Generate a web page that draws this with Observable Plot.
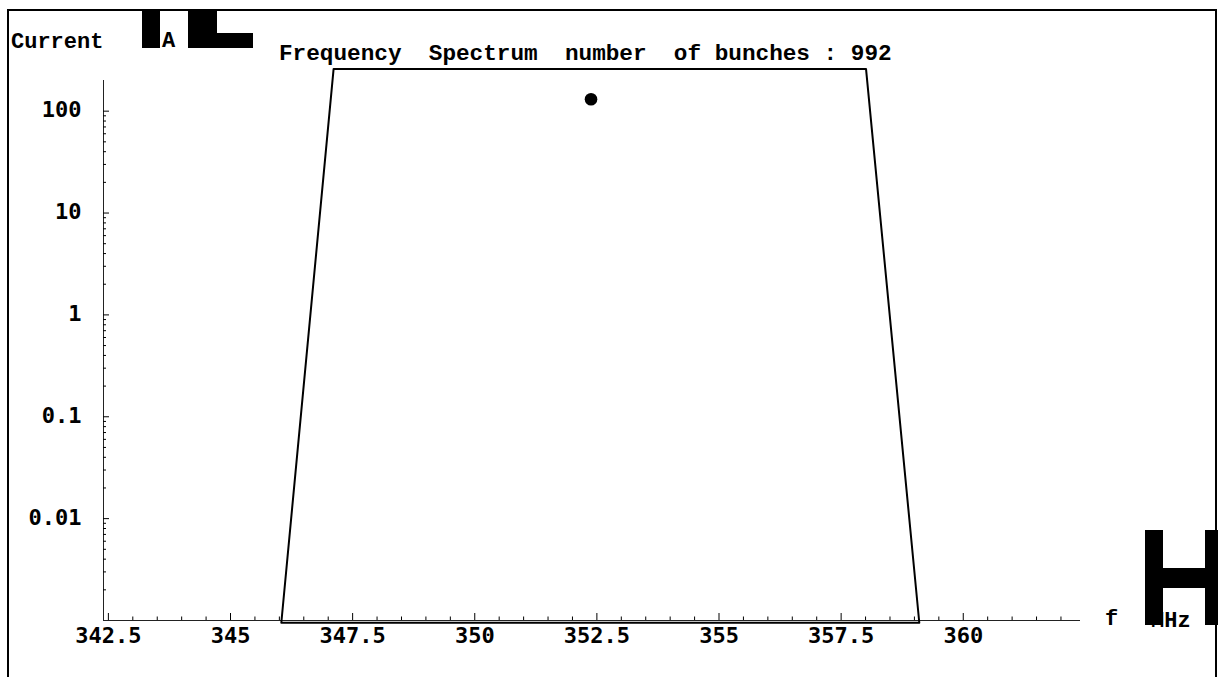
<!DOCTYPE html>
<html>
<head>
<meta charset="utf-8">
<script src="https://cdn.jsdelivr.net/npm/d3@7"></script>
<script src="https://cdn.jsdelivr.net/npm/@observablehq/plot@0.6"></script>
<style>
  html, body { margin: 0; padding: 0; background: #fff; }
  #chart { position: relative; width: 1218px; height: 677px; overflow: hidden; }
  #chart svg { position: absolute; left: 0; top: 0; }
</style>
</head>
<body>
<div id="chart"></div>
<script>
// Envelope of the bunch spectrum: corner frequencies (MHz) and currents (μA)
const envelopeFreq = [346.04, 347.11, 358.01, 359.10];
const envelopeCurrent = [0.00095, 259, 259, 0.00095];

// The single spectral line
const lineFreq = [352.38];
const lineCurrent = [131];

// Axis ticks
const freqTicks = [342.5, 345, 347.5, 350, 352.5, 355, 357.5, 360];
const freqTickLabels = ["342.5", "345", "347.5", "350", "352.5", "355", "357.5", "360"];
const currentTicks = [0.01, 0.1, 1, 10, 100];
const currentTickLabels = ["0.01", "0.1", "1", "10", "100"];

const bunches = 992;

// Tables built from the arrays above
const envelope = envelopeFreq.map((f, i) => ({f, c: envelopeCurrent[i]}));
const lines = lineFreq.map((f, i) => ({f, c: lineCurrent[i]}));
const xTickTable = freqTicks.map((v, i) => ({v, label: freqTickLabels[i]}));
const yTickTable = currentTicks.map((v, i) => ({v, label: currentTickLabels[i]}));

// Minor ticks: every 0.5 MHz, and 2..9 within each decade of current
const freqMinor = d3.range(343, 362.01, 0.5).filter(v => !freqTicks.includes(v));
const currentMinor = [0.001, 0.01, 0.1, 1, 10].flatMap(d => d3.range(2, 10).map(k => +(k * d).toPrecision(3)));

const xStart = 342.4;
const yStart = 0.001;
const labelFont = {fontFamily: "DejaVu Sans Mono", fontWeight: "bold", fontSize: 22, fill: "black"};

const chart = Plot.plot({
  width: 1218,
  height: 677,
  marginLeft: 103,
  marginRight: 138,
  marginTop: 80,
  marginBottom: 57,
  x: {domain: [xStart, 362.4], axis: null},
  y: {type: "log", domain: [yStart, 200], axis: null},
  style: {background: "transparent", overflow: "visible"},
  marks: [
    // axis lines
    Plot.ruleY([yStart], {stroke: "#222", strokeWidth: 1}),
    Plot.ruleX([xStart], {stroke: "#222", strokeWidth: 1}),
    // inward ticks on the frequency axis
    Plot.ruleX(freqTicks, {x: d => d, y1: yStart, y2: yStart, insetTop: -7, stroke: "black"}),
    Plot.ruleX(freqMinor, {x: d => d, y1: yStart, y2: yStart, insetTop: -3.5, stroke: "black"}),
    // inward ticks on the current axis
    Plot.ruleY(currentTicks, {y: d => d, x1: xStart, x2: xStart, insetRight: -6, stroke: "black"}),
    Plot.ruleY(currentMinor, {y: d => d, x1: xStart, x2: xStart, insetRight: -3, stroke: "black"}),
    // tick labels
    Plot.text(xTickTable, {x: "v", text: "label", frameAnchor: "bottom", dy: 22, ...labelFont}),
    Plot.text(yTickTable, {y: "v", text: "label", frameAnchor: "left", dx: -22, dy: -1, textAnchor: "end", ...labelFont}),
    // spectrum envelope (closed outline) and line
    Plot.line(envelope, {x: "f", y: "c", curve: "linear-closed", stroke: "black", strokeWidth: 2}),
    Plot.dot(lines, {x: "f", y: "c", r: 6.3, fill: "black", stroke: "none"})
  ]
});

document.getElementById("chart").appendChild(chart);

// Annotations: frame, title, axis captions and the heavy bracket glyphs
const svg = d3.select(chart);
const g = svg.append("g").attr("text-anchor", "start");
const mono = "'Liberation Mono', 'Courier New', monospace";

function caption(x, y, str, size = 22) {
  g.append("text").attr("x", x).attr("y", y)
    .attr("text-anchor", "start")
    .attr("font-family", mono).attr("font-weight", "bold").attr("font-size", size)
    .style("white-space", "pre")
    .text(str);
}

// heavy bracket glyphs around the current unit
g.append("path").attr("fill", "black")
  .attr("d", "M142,10H160V48H142Z M188,10H217V33H253V48H188Z");

caption(11, 48, "Current");
caption(162, 47, "A");
caption(279, 60, `Frequency  Spectrum  number  of bunches : ${bunches}`, 22.7);
caption(1105, 625, "f");
caption(1151, 627, "MHz");

// heavy bracket glyph over the frequency unit
g.append("path").attr("fill", "black")
  .attr("d", "M1145,530H1163V568H1205V530H1223V625H1205V588H1163V625H1145Z");

// outer frame
g.append("rect").attr("x", 8).attr("y", 10).attr("width", 1208).attr("height", 720)
  .attr("fill", "none").attr("stroke", "black").attr("stroke-width", 2);
</script>
</body>
</html>
